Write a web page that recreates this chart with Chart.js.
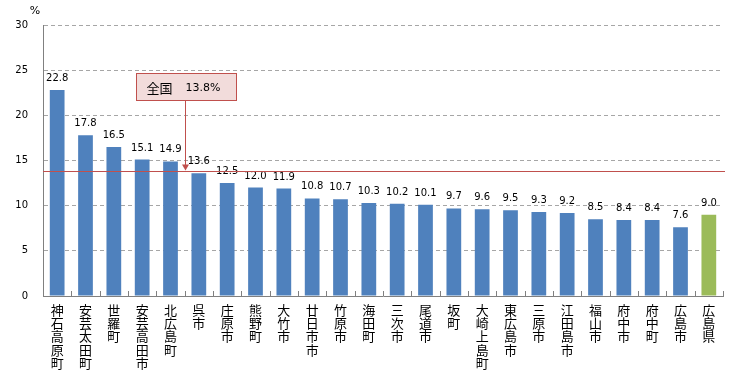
<!DOCTYPE html>
<html><head><meta charset="utf-8">
<script src="https://cdn.jsdelivr.net/npm/chart.js@4/dist/chart.umd.min.js"></script>
<style>html,body{margin:0;padding:0;background:#fff}canvas{display:block}</style>
</head><body>
<canvas id="c" width="756" height="379"></canvas>
<script>
const categories = ["神石高原町","安芸太田町","世羅町","安芸高田市","北広島町","呉市","庄原市","熊野町","大竹市","廿日市市","竹原市","海田町","三次市","尾道市","坂町","大崎上島町","東広島市","三原市","江田島市","福山市","府中市","府中町","広島市","広島県"];
const values = [22.8,17.8,16.5,15.1,14.9,13.6,12.5,12.0,11.9,10.8,10.7,10.3,10.2,10.1,9.7,9.6,9.5,9.3,9.2,8.5,8.4,8.4,7.6,9.0];
const yTicks = [0,5,10,15,20,25,30];
const nationalAvg = 13.8;
const nationalLabel = "全国";
const unitLabel = "%";

const BLUE = "#4f81bd", GREEN = "#9bbb59", RED = "#c0504d";
const barColors = categories.map((c,i)=> i===categories.length-1 ? GREEN : BLUE);
const NUMFONT = '10px "DejaVu Sans"';

const deco = {
  id:'deco',
  beforeDatasetsDraw(chart){
    const ctx = chart.ctx, x = chart.scales.x;
    const a = chart.chartArea;
    ctx.save();
    ctx.strokeStyle = '#808080'; ctx.lineWidth = 1;
    const n = categories.length;
    for(let i=1;i<=n;i++){
      const px = Math.round(x.getPixelForValue(i-0.5))+0.5;
      ctx.beginPath(); ctx.moveTo(px, a.bottom); ctx.lineTo(px, a.bottom-5); ctx.stroke();
    }
    ctx.restore();
  },
  afterDatasetsDraw(chart){
    const ctx = chart.ctx, x = chart.scales.x, y = chart.scales.y;
    const a = chart.chartArea;
    const meta = chart.getDatasetMeta(0);
    ctx.save();
    ctx.fillStyle = '#000'; ctx.font = NUMFONT; ctx.textAlign='center'; ctx.textBaseline='alphabetic';
    meta.data.forEach((b,i)=>{ ctx.fillText(values[i].toFixed(1), b.x, b.y-9); });
    const ly = Math.round(y.getPixelForValue(nationalAvg))+0.5;
    ctx.strokeStyle = RED; ctx.lineWidth = 1;
    ctx.beginPath(); ctx.moveTo(a.left, ly); ctx.lineTo(a.right+2, ly); ctx.stroke();
    const cx = Math.round(x.getPixelForValue(4.5))+0.5;
    const bw = 100, bh = 27;
    const bx = Math.round(cx - 50)+0.5, by = Math.round(y.getPixelForValue(24.7))+0.5;
    ctx.fillStyle = '#f2dcdb'; ctx.fillRect(bx, by, bw, bh);
    ctx.strokeStyle = RED; ctx.strokeRect(bx, by, bw, bh);
    ctx.beginPath(); ctx.moveTo(cx, by+bh); ctx.lineTo(cx, ly-6); ctx.stroke();
    ctx.fillStyle = RED;
    ctx.beginPath(); ctx.moveTo(cx-3.5, ly-7); ctx.lineTo(cx+3.5, ly-7); ctx.lineTo(cx, ly-1); ctx.closePath(); ctx.fill();
    ctx.fillStyle = '#000'; ctx.textBaseline='middle'; ctx.textAlign='left';
    ctx.font = '13px "Noto Sans CJK JP"';
    ctx.fillText(nationalLabel, bx+10, by+bh/2+1);
    ctx.font = '11px "DejaVu Sans"';
    ctx.fillText(nationalAvg.toFixed(1)+unitLabel, bx+49, by+bh/2+1);
    ctx.font = '11px "DejaVu Sans"'; ctx.textAlign='center';
    ctx.fillText(unitLabel, 35, 11);
    ctx.restore();
  }
};

new Chart(document.getElementById('c'), {
  type:'bar',
  data:{ labels: categories.map(s=>s.split('')),
    datasets:[{ data: values, backgroundColor: barColors, borderWidth:0, barPercentage:0.52, categoryPercentage:1 }]},
  options:{
    responsive:false, animation:false, devicePixelRatio:1,
    layout:{ padding:{ left:0, top:25, right:33, bottom:0 } },
    plugins:{ legend:{display:false}, tooltip:{enabled:false} },
    scales:{
      x:{
        grid:{ display:true, drawOnChartArea:false, drawTicks:false, color:'#808080' },
        border:{ display:true, color:'#808080', width:1 },
        ticks:{ autoSkip:false, maxRotation:0, minRotation:0, padding:7, color:'#000',
          font:{ family:'"Noto Sans CJK JP"', size:13, lineHeight:1.03 } },
        afterFit(s){ s.height = 83; }
      },
      y:{
        min:0, max:30,
        afterBuildTicks(s){ s.ticks = yTicks.map(v=>({value:v})); },
        grid:{ drawTicks:false, color:(c)=> c.tick && c.tick.value===0 ? 'rgba(0,0,0,0)' : '#a6a6a6', lineWidth:1 },
        border:{ display:true, color:'#808080', width:1, dash:[4,3] },
        ticks:{ padding:15, color:'#000', font:{ family:'"DejaVu Sans"', size:10 } },
        afterFit(s){ s.width = 43; }
      }
    }
  },
  plugins:[deco]
});
</script>
</body></html>
